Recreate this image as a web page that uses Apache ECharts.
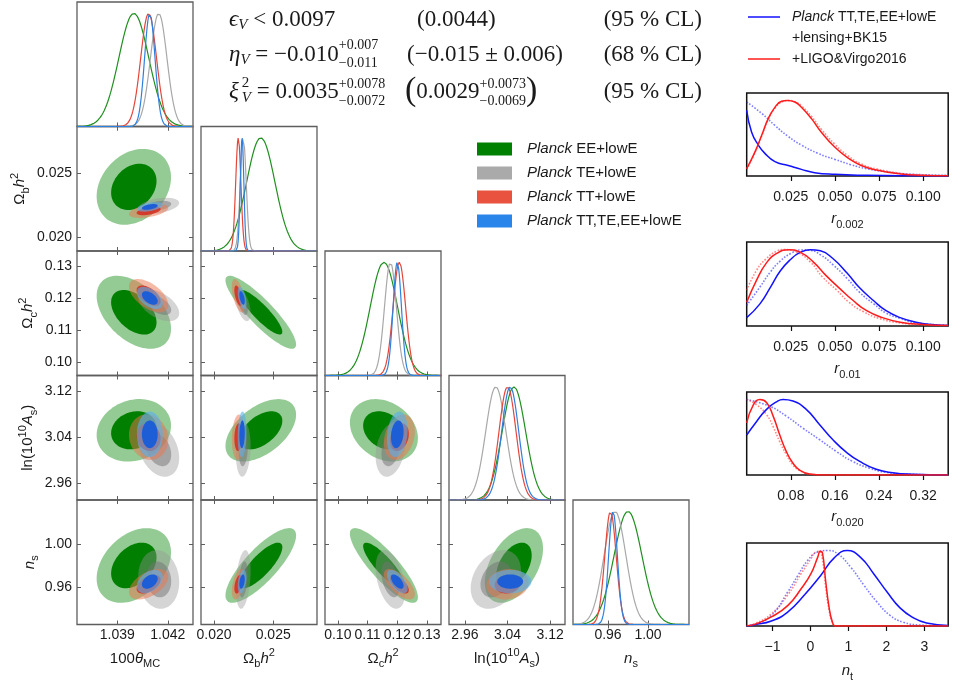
<!DOCTYPE html>
<html>
<head>
<meta charset="utf-8">
<script src="https://cdn.jsdelivr.net/npm/echarts@6.0.0/dist/echarts.min.js"></script>
<style>
  html, body { margin: 0; padding: 0; background: #ffffff; }
  #chart { width: 962px; height: 684px; }
</style>
</head>
<body>
<div id="chart"></div>
<script>
// ---------------- Triangle plot: parameters ----------------
const paramLabels = [
  '{n|100}{i|θ}{sub|MC}',
  '{n|Ω}{sub|b}{i|h}{sup|2}',
  '{n|Ω}{sub|c}{i|h}{sup|2}',
  '{n|ln(10}{sup|10}{i|A}{sub|s}{n|)}',
  '{i|n}{sub|s}'
];
const paramMin = [1.0366, 0.0189, 0.0957, 2.930, 0.925];
const paramMax = [1.0435, 0.0287, 0.1347, 3.148, 1.041];
const paramTicks = [[1.039, 1.042], [0.020, 0.025], [0.10, 0.11, 0.12, 0.13], [2.96, 3.04, 3.12], [0.96, 1.00]];
const paramDigits = [3, 3, 2, 2, 2];

// ---------------- Triangle plot: datasets ----------------
const datasetLabels = ['EE+lowE', 'TE+lowE', 'TT+lowE', 'TT,TE,EE+lowE'];
// posterior means (same parameter order as above)
const meanEE  = [1.03998, 0.02395, 0.1155, 3.052, 0.980];
const meanTE  = [1.04146, 0.02247, 0.1177, 3.018, 0.967];
const meanTT  = [1.04086, 0.02205, 0.1207, 3.040, 0.9625];
const meanAll = [1.04093, 0.02237, 0.1200, 3.045, 0.9650];
// 1-sigma widths
const sigmaEE  = [0.00089, 0.0012, 0.0046, 0.022, 0.014];
const sigmaTE  = [0.00049, 0.00025, 0.0020, 0.019, 0.011];
const sigmaTT  = [0.00047, 0.00022, 0.0021, 0.016, 0.0057];
const sigmaAll = [0.00031, 0.00015, 0.0014, 0.016, 0.0044];
// correlation coefficients for each (column, row) parameter pair
const pairs   = [[0,1],[0,2],[1,2],[0,3],[1,3],[2,3],[0,4],[1,4],[2,4],[3,4]];
const corrEE  = [0.25, -0.45, -0.88, 0.15, 0.50, -0.25, 0.35, 0.80, -0.85, 0.45];
const corrTE  = [0.35, -0.50, -0.50, -0.30, 0.15, 0.25, -0.10, 0.30, -0.40, 0.30];
const corrTT  = [0.45, -0.55, -0.55, -0.10, 0.10, 0.25, 0.50, 0.45, -0.65, 0.10];
const corrAll = [0.45, -0.50, -0.50, 0.00, 0.10, 0.20, 0.40, 0.35, -0.60, 0.00];

// ---------------- Tensor-sector marginals (right column) ----------------
const r002BlueSolid  = [[0,0.87],[0.0028,0.58],[0.0066,0.41],[0.0103,0.30],[0.016,0.19],[0.0235,0.14],[0.031,0.088],[0.0385,0.044],[0.050,0.022],[0.068,0.009],[0.090,0.002],[0.1142,0]];
const r002BlueDotted = [[0,0.98],[0.0085,0.83],[0.016,0.67],[0.0235,0.525],[0.031,0.41],[0.0404,0.30],[0.050,0.22],[0.059,0.15],[0.068,0.097],[0.080,0.053],[0.091,0.026],[0.1142,0.009]];
const r002RedSolid   = [[0,0.097],[0.0047,0.32],[0.0085,0.54],[0.0122,0.76],[0.016,0.91],[0.0198,0.99],[0.0231,1.0],[0.0273,0.98],[0.031,0.91],[0.0367,0.76],[0.0423,0.58],[0.050,0.38],[0.0573,0.24],[0.0649,0.14],[0.0743,0.075],[0.0875,0.026],[0.098,0.01],[0.1142,0.002]];
const r002RedDotted  = [[0,0.09],[0.0047,0.31],[0.0085,0.53],[0.0122,0.75],[0.016,0.90],[0.0198,0.98],[0.0235,1.0],[0.0278,0.98],[0.031,0.93],[0.0367,0.79],[0.0423,0.62],[0.050,0.42],[0.0573,0.27],[0.0649,0.16],[0.0743,0.09],[0.0875,0.035],[0.098,0.015],[0.1142,0.004]];

const r01BlueSolid  = [[0,0.11],[0.0075,0.29],[0.0135,0.51],[0.019,0.72],[0.0248,0.87],[0.030,0.96],[0.036,1.0],[0.0418,0.985],[0.049,0.88],[0.057,0.69],[0.064,0.50],[0.072,0.33],[0.079,0.20],[0.087,0.11],[0.096,0.05],[0.105,0.02],[0.1142,0.008]];
const r01BlueDotted = [[0,0.27],[0.0075,0.51],[0.0135,0.71],[0.019,0.85],[0.025,0.95],[0.031,0.995],[0.036,0.99],[0.042,0.93],[0.049,0.80],[0.057,0.62],[0.064,0.44],[0.072,0.29],[0.079,0.17],[0.087,0.10],[0.096,0.04],[0.1142,0.01]];
const r01RedSolid   = [[0,0.31],[0.0056,0.60],[0.011,0.82],[0.017,0.95],[0.024,1.0],[0.030,0.97],[0.0377,0.84],[0.045,0.66],[0.0528,0.49],[0.060,0.34],[0.068,0.20],[0.077,0.11],[0.087,0.05],[0.100,0.02],[0.1142,0.005]];
const r01RedDotted  = [[0,0.47],[0.0056,0.73],[0.011,0.88],[0.017,0.98],[0.021,1.0],[0.028,0.97],[0.036,0.84],[0.043,0.64],[0.051,0.47],[0.058,0.31],[0.066,0.19],[0.075,0.10],[0.087,0.04],[0.100,0.015],[0.1142,0.005]];

const r020BlueSolid  = [[0,0.53],[0.018,0.71],[0.036,0.87],[0.054,0.97],[0.066,1.0],[0.084,0.98],[0.108,0.87],[0.132,0.67],[0.156,0.47],[0.181,0.30],[0.205,0.18],[0.235,0.076],[0.265,0.03],[0.30,0.01],[0.3655,0]];
const r020BlueDotted = [[0,1.0],[0.042,0.91],[0.072,0.78],[0.102,0.62],[0.132,0.47],[0.163,0.31],[0.192,0.18],[0.223,0.09],[0.253,0.035],[0.30,0.01],[0.3655,0]];
const r020RedSolid   = [[0,0.69],[0.012,0.93],[0.024,1.0],[0.036,0.96],[0.048,0.78],[0.060,0.53],[0.072,0.31],[0.084,0.155],[0.096,0.066],[0.114,0.013],[0.14,0],[0.3655,0]];
const r020RedDotted  = [[0,1.0],[0.018,0.93],[0.036,0.80],[0.048,0.64],[0.060,0.44],[0.072,0.27],[0.084,0.13],[0.096,0.06],[0.114,0.01],[0.14,0],[0.3655,0]];

const ntBlueSolid  = [[-1.68,0],[-1.47,0.018],[-1.03,0.066],[-0.60,0.185],[-0.16,0.41],[0.27,0.67],[0.62,0.90],[0.97,1.0],[1.32,0.91],[1.67,0.69],[2.02,0.45],[2.36,0.24],[2.71,0.11],[3.06,0.04],[3.63,0.005]];
const ntBlueDotted = [[-1.68,0.003],[-1.47,0.02],[-1.03,0.14],[-0.60,0.45],[-0.33,0.67],[-0.07,0.87],[0.19,0.98],[0.45,1.0],[0.71,0.96],[1.06,0.78],[1.41,0.54],[1.75,0.32],[2.10,0.14],[2.45,0.05],[2.89,0.013],[3.63,0]];
const ntRedSolid   = [[-1.68,0.003],[-1.47,0.022],[-1.03,0.12],[-0.60,0.27],[-0.25,0.49],[0.01,0.69],[0.19,0.91],[0.26,0.99],[0.32,0.96],[0.40,0.60],[0.49,0.25],[0.58,0.05],[0.66,0],[3.63,0]];
const ntRedDotted  = [[-1.68,0.005],[-1.47,0.03],[-1.03,0.16],[-0.60,0.41],[-0.25,0.69],[0.01,0.89],[0.14,0.98],[0.23,0.99],[0.32,0.87],[0.40,0.52],[0.49,0.21],[0.58,0.04],[0.66,0],[3.63,0]];

const tensorLabels = ['{i|r}{sub|0.002}', '{i|r}{sub|0.01}', '{i|r}{sub|0.020}', '{i|n}{sub|t}'];
const tensorMin = [0, 0, 0, -1.68];
const tensorMax = [0.1142, 0.1142, 0.3655, 3.63];
const tensorTicks = [[0.025, 0.05, 0.075, 0.1], [0.025, 0.05, 0.075, 0.1], [0.08, 0.16, 0.24, 0.32], [-1, 0, 1, 2, 3]];
const tensorDigits = [3, 3, 2, 0];

// ---------------- styling ----------------
const FS = '"Liberation Sans", "DejaVu Sans", sans-serif';
const FR = '"Liberation Serif", "DejaVu Serif", serif';
const INK = '#1a1a1a';
const FRAME = '#5e5e5e';
const lineColors = ['#1f8f1f', '#a8a8a8', '#e5463b', '#2e80e0'];
const fillOuter = ['rgba(0,128,0,0.42)', 'rgba(150,150,150,0.40)', 'rgba(236,118,78,0.50)', 'rgba(90,175,235,0.62)'];
const fillInner = ['#007f00', 'rgba(115,115,115,0.50)', 'rgba(214,42,30,0.85)', '#1d5ed6'];
const legendColors = ['#008000', '#aaaaaa', '#e8523f', '#2a85ea'];
const R68 = Math.sqrt(2.30), R95 = Math.sqrt(6.18);

const means = [meanEE, meanTE, meanTT, meanAll];
const sigmas = [sigmaEE, sigmaTE, sigmaTT, sigmaAll];
const corrs = [corrEE, corrTE, corrTT, corrAll];

function nameStyle() {
  return {
    color: INK,
    rich: {
      n:   { fontFamily: FS, fontSize: 15, lineHeight: 22, color: INK },
      i:   { fontFamily: FS, fontSize: 15, fontStyle: 'italic', lineHeight: 22, color: INK },
      sub: { fontFamily: FS, fontSize: 11, lineHeight: 11, verticalAlign: 'bottom', color: INK },
      sup: { fontFamily: FS, fontSize: 11, lineHeight: 11, verticalAlign: 'top', color: INK }
    }
  };
}

const grids = [], xAxes = [], yAxes = [], series = [];

// ---------------- triangle layout ----------------
const triLeft = 77, colStep = 124, cellW = 116, triTop = 2, cellH = 124.5;
const yNameGap = [0, 46, 38, 38, 34];

function innerTick(vals) {
  return { show: true, inside: true, length: 4, customValues: vals, lineStyle: { color: FRAME, width: 1 } };
}

for (let row = 0; row < 5; row++) {
  for (let col = 0; col <= row; col++) {
    const gi = grids.length;
    grids.push({ left: triLeft + colStep * col, top: triTop + cellH * row, width: cellW, height: cellH,
                 show: true, borderColor: FRAME, borderWidth: 1.3, backgroundColor: 'transparent' });
    const bottomRow = row === 4;
    const xi = xAxes.length;
    xAxes.push({ gridIndex: gi, type: 'value', position: 'bottom', min: paramMin[col], max: paramMax[col],
      axisLine: { show: false }, splitLine: { show: false }, axisTick: innerTick(paramTicks[col]),
      axisLabel: { show: bottomRow, customValues: paramTicks[col], formatter: v => v.toFixed(paramDigits[col]),
                   margin: 4, fontFamily: FS, fontSize: 14, color: INK },
      name: bottomRow ? paramLabels[col] : '', nameLocation: 'middle', nameGap: 23, nameTextStyle: nameStyle() });
    xAxes.push({ gridIndex: gi, type: 'value', position: 'top', min: paramMin[col], max: paramMax[col],
      axisLine: { show: false }, splitLine: { show: false }, axisTick: innerTick(paramTicks[col]), axisLabel: { show: false } });
    const yi = yAxes.length;
    if (row === col) {
      yAxes.push({ gridIndex: gi, type: 'value', min: 0, max: 1.1, show: false });
      yAxes.push({ gridIndex: gi, type: 'value', min: 0, max: 1.1, show: false, position: 'right' });
      // 1D marginals
      for (let d = 0; d < 4; d++) {
        const m = means[d][col], s = sigmas[d][col];
        const pts = [];
        for (let k = 0; k <= 200; k++) {
          const x = paramMin[col] + (paramMax[col] - paramMin[col]) * k / 200;
          pts.push([x, Math.exp(-0.5 * Math.pow((x - m) / s, 2))]);
        }
        series.push({ type: 'line', xAxisIndex: xi, yAxisIndex: yi, data: pts, showSymbol: false, symbol: 'none',
                      silent: true, lineStyle: { color: lineColors[d], width: 1.2 } });
      }
    } else {
      const leftCol = col === 0;
      yAxes.push({ gridIndex: gi, type: 'value', position: 'left', min: paramMin[row], max: paramMax[row],
        axisLine: { show: false }, splitLine: { show: false }, axisTick: innerTick(paramTicks[row]),
        axisLabel: { show: leftCol, customValues: paramTicks[row], formatter: v => v.toFixed(paramDigits[row]),
                     margin: 5, fontFamily: FS, fontSize: 14, color: INK },
        name: leftCol ? paramLabels[row] : '', nameLocation: 'middle', nameGap: yNameGap[row], nameTextStyle: nameStyle() });
      yAxes.push({ gridIndex: gi, type: 'value', position: 'right', min: paramMin[row], max: paramMax[row],
        axisLine: { show: false }, splitLine: { show: false }, axisTick: innerTick(paramTicks[row]), axisLabel: { show: false } });
      // 2D contours (95% then 68% for each dataset)
      const pk = pairs.findIndex(p => p[0] === col && p[1] === row);
      const items = [];
      for (let d = 0; d < 4; d++) {
        const base = { mx: means[d][col], my: means[d][row], sx: sigmas[d][col], sy: sigmas[d][row], rho: corrs[d][pk] };
        items.push(Object.assign({ r: R95, fill: fillOuter[d] }, base));
        items.push(Object.assign({ r: R68, fill: fillInner[d] }, base));
      }
      series.push({ type: 'custom', xAxisIndex: xi, yAxisIndex: yi, clip: true, silent: true,
        data: items.map(it => [it.mx, it.my]), encode: { x: 0, y: 1 },
        renderItem: (params, api) => {
          const it = items[params.dataIndex];
          const k = Math.sqrt(1 - it.rho * it.rho);
          const pts = [];
          for (let j = 0; j < 90; j++) {
            const t = 2 * Math.PI * j / 90, c = Math.cos(t), s = Math.sin(t);
            pts.push(api.coord([it.mx + it.r * it.sx * c, it.my + it.r * it.sy * (it.rho * c + k * s)]));
          }
          return { type: 'polygon', shape: { points: pts }, style: { fill: it.fill } };
        } });
    }
  }
}

// ---------------- tensor panels ----------------
const tensorCurves = [
  [r002BlueDotted, r002RedDotted, r002BlueSolid, r002RedSolid],
  [r01BlueDotted, r01RedDotted, r01BlueSolid, r01RedSolid],
  [r020BlueDotted, r020RedDotted, r020BlueSolid, r020RedSolid],
  [ntBlueDotted, ntRedDotted, ntBlueSolid, ntRedSolid]
];
const curveStyles = [
  { color: 'rgba(40,40,255,0.6)', width: 1.6, type: 'dotted' },
  { color: 'rgba(255,40,40,0.55)', width: 1.6, type: 'dotted' },
  { color: '#1212ff', width: 1.5, type: 'solid' },
  { color: '#ff1c1c', width: 1.5, type: 'solid' }
];
const tensorTop = [93, 242, 392, 543];
const tensorH = [83, 84, 83, 83];
const tensorNameGap = [32, 32, 31, 34];
for (let p = 0; p < 4; p++) {
  const gi = grids.length;
  grids.push({ left: 746.7, top: tensorTop[p], width: 201.5, height: tensorH[p], show: true,
               borderColor: '#111', borderWidth: 1.5, backgroundColor: 'transparent' });
  const xi = xAxes.length, yi = yAxes.length;
  xAxes.push({ gridIndex: gi, type: 'value', min: tensorMin[p], max: tensorMax[p], position: 'bottom',
    axisLine: { show: false }, splitLine: { show: false },
    axisTick: { show: true, inside: false, length: 5, customValues: tensorTicks[p], lineStyle: { color: '#111', width: 1.2 } },
    axisLabel: { customValues: tensorTicks[p], margin: 14, fontFamily: FS, fontSize: 14, color: INK,
                 formatter: v => (v < 0 ? '−' + Math.abs(v).toFixed(tensorDigits[p]) : v.toFixed(tensorDigits[p])) },
    name: tensorLabels[p], nameLocation: 'middle', nameGap: tensorNameGap[p], nameTextStyle: nameStyle() });
  yAxes.push({ gridIndex: gi, type: 'value', min: 0, max: 1.1, show: false });
  tensorCurves[p].forEach((cv, k) => {
    series.push({ type: 'line', xAxisIndex: xi, yAxisIndex: yi, data: cv, showSymbol: false, symbol: 'none',
                  smooth: 0.5, silent: true, lineStyle: curveStyles[k] });
  });
}

// ---------------- text: equations and legends ----------------
const ctx2d = document.createElement('canvas').getContext('2d');
function widthOf(t, size, italic, fam) {
  ctx2d.font = (italic ? 'italic ' : 'normal ') + size + 'px ' + fam;
  return ctx2d.measureText(t).width;
}
function txt(x, y, t, size, italic, fam, align) {
  return { type: 'text', x: x, y: y, silent: true, z: 10,
    style: { text: t, fontSize: size, fontFamily: fam, fontStyle: italic ? 'italic' : 'normal',
             fill: INK, align: align || 'left', verticalAlign: 'middle' } };
}
function formula(x0, yc, tokens) {
  const out = [];
  let x = x0;
  tokens.forEach(tok => {
    if (tok.stack) {
      const s = tok.size;
      out.push(txt(x, yc + tok.up, tok.stack[0], s, false, FR));
      out.push(txt(x, yc + tok.dn, tok.stack[1], s, !!tok.dnIt, FR));
      x += Math.max(widthOf(tok.stack[0], s, false, FR), widthOf(tok.stack[1], s, !!tok.dnIt, FR)) + (tok.gap || 0);
    } else {
      const s = tok.size || 23;
      out.push(txt(x, yc + (tok.dy || 0), tok.t, s, !!tok.it, FR));
      x += widthOf(tok.t, s, !!tok.it, FR) + (tok.gap || 0);
    }
  });
  return out;
}

const graphics = [];
graphics.push(...formula(229, 20, [{ t: 'ϵ', it: 1 }, { t: 'V', it: 1, size: 15, dy: 5 }, { t: ' < 0.0097' }]));
graphics.push(txt(417, 20, '(0.0044)', 23, false, FR));
graphics.push(txt(702, 20, '(95 % CL)', 23, false, FR, 'right'));

graphics.push(...formula(229, 55, [{ t: 'η', it: 1 }, { t: 'V', it: 1, size: 15, dy: 5 }, { t: ' = −0.010' },
  { stack: ['+0.007', '−0.011'], size: 14, up: -10, dn: 8 }]));
graphics.push(txt(407, 55, '(−0.015 ± 0.006)', 23, false, FR));
graphics.push(txt(702, 55, '(68 % CL)', 23, false, FR, 'right'));

graphics.push(...formula(229, 92, [{ t: 'ξ', it: 1, gap: 3 }, { stack: ['2', 'V'], size: 15, up: -9, dn: 6, dnIt: true },
  { t: ' = 0.0035' }, { stack: ['+0.0078', '−0.0072'], size: 14, up: -8, dn: 9 }]));
graphics.push(...formula(405, 92, [{ t: '(', size: 34, dy: -1 }, { t: '0.0029' },
  { stack: ['+0.0073', '−0.0069'], size: 14, up: -8, dn: 9 }, { t: ')', size: 34, dy: -1 }]));
graphics.push(txt(702, 92, '(95 % CL)', 23, false, FR, 'right'));

// dataset legend
datasetLabels.forEach((lab, k) => {
  const yc = 149 + 24 * k;
  graphics.push({ type: 'rect', silent: true, shape: { x: 477, y: yc - 6.5, width: 35, height: 13 }, style: { fill: legendColors[k] } });
  graphics.push(txt(527, yc, 'Planck', 15, true, FS));
  graphics.push(txt(527 + widthOf('Planck ', 15, true, FS), yc, lab, 15, false, FS));
});

// tensor legend
graphics.push({ type: 'line', silent: true, shape: { x1: 748, y1: 17, x2: 780, y2: 17 }, style: { stroke: '#1212ff', lineWidth: 1.5 } });
graphics.push(txt(792, 17, 'Planck', 14, true, FS));
graphics.push(txt(792 + widthOf('Planck ', 14, true, FS), 17, 'TT,TE,EE+lowE', 14, false, FS));
graphics.push(txt(792, 38, '+lensing+BK15', 14, false, FS));
graphics.push({ type: 'line', silent: true, shape: { x1: 748, y1: 59, x2: 780, y2: 59 }, style: { stroke: '#ff1c1c', lineWidth: 1.5 } });
graphics.push(txt(792, 59, '+LIGO&Virgo2016', 14, false, FS));

const chart = echarts.init(document.getElementById('chart'), null, { renderer: 'canvas', width: 962, height: 684 });
chart.setOption({
  animation: false,
  backgroundColor: '#ffffff',
  grid: grids,
  xAxis: xAxes,
  yAxis: yAxes,
  series: series,
  graphic: graphics
});
</script>
</body>
</html>
